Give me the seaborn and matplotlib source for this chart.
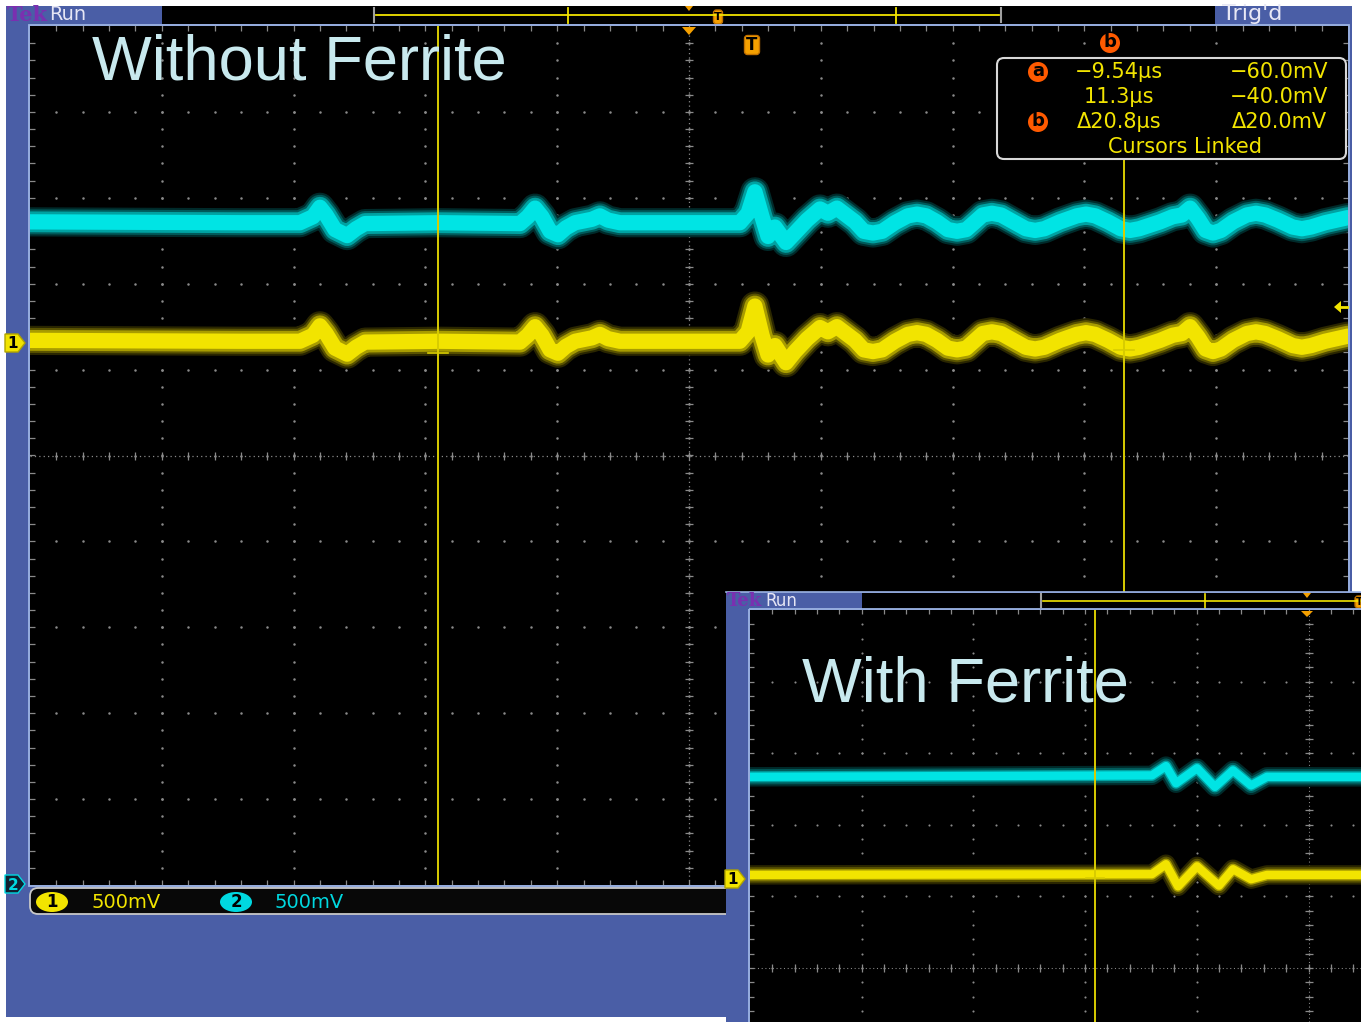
"""
plot.py – 示波器截图复刻：Without Ferrite / With Ferrite
"""
import numpy as np
import pandas as pd
import matplotlib
matplotlib.use("Agg")
import matplotlib.pyplot as plt
import seaborn as sns
from matplotlib.patches import Rectangle, FancyBboxPatch, Circle, Ellipse, Polygon

# ---- 数据：时间 µs (5 µs/div)，幅度为屏幕格数 (div) ----
t_main = [-25.0, -17.03, -14.76, -14.26, -14.0, -13.77, -13.43, -12.97, -12.63,
          -12.29, -9.45, -6.41, -6.11, -5.84, -5.58, -5.27, -4.97, -4.67,
          -4.32, -3.68, -3.38, -3.07, -2.62, 1.93, 2.24, 2.50, 2.77,
          3.00, 3.26, 3.68, 4.02, 4.48, 4.97, 5.27, 5.61, 6.30,
          6.63, 6.98, 7.33, 7.81, 8.30, 8.65, 9.00, 9.41, 9.82,
          10.17, 10.52, 10.85, 11.14, 11.49, 11.84, 12.25, 12.78, 13.13,
          13.48, 14.07, 14.71, 15.06, 15.41, 15.90, 16.38, 16.73, 17.08,
          17.87, 18.35, 18.70, 19.01, 19.31, 19.60, 19.88, 20.18, 20.64,
          21.16, 21.51, 21.86, 22.34, 22.90, 23.25, 23.60, 24.13, 25.0]
ch2_main = [2.72, 2.71, 2.71, 2.78, 2.89, 2.80, 2.63, 2.56, 2.64,
            2.70, 2.71, 2.70, 2.78, 2.88, 2.78, 2.61, 2.57, 2.65,
            2.71, 2.75, 2.79, 2.74, 2.71, 2.71, 2.82, 3.07, 2.78,
            2.55, 2.66, 2.48, 2.59, 2.74, 2.87, 2.82, 2.88, 2.72,
            2.61, 2.59, 2.61, 2.71, 2.79, 2.81, 2.79, 2.72, 2.63,
            2.61, 2.63, 2.72, 2.80, 2.82, 2.80, 2.73, 2.64, 2.62,
            2.64, 2.72, 2.79, 2.81, 2.79, 2.72, 2.64, 2.62, 2.64,
            2.72, 2.78, 2.80, 2.88, 2.76, 2.62, 2.59, 2.62, 2.72,
            2.80, 2.82, 2.80, 2.74, 2.66, 2.64, 2.66, 2.71, 2.77]
ch1_main = [1.34, 1.33, 1.33, 1.40, 1.51, 1.42, 1.25, 1.18, 1.26,
            1.32, 1.33, 1.32, 1.40, 1.50, 1.40, 1.23, 1.19, 1.27,
            1.33, 1.37, 1.41, 1.36, 1.33, 1.33, 1.44, 1.74, 1.40,
            1.17, 1.28, 1.08, 1.21, 1.36, 1.49, 1.44, 1.50, 1.34,
            1.23, 1.21, 1.23, 1.33, 1.41, 1.43, 1.41, 1.34, 1.25,
            1.23, 1.25, 1.34, 1.42, 1.44, 1.42, 1.35, 1.26, 1.24,
            1.26, 1.34, 1.41, 1.43, 1.41, 1.34, 1.26, 1.24, 1.26,
            1.34, 1.40, 1.42, 1.50, 1.38, 1.24, 1.21, 1.24, 1.34,
            1.42, 1.44, 1.42, 1.36, 1.28, 1.26, 1.28, 1.33, 1.39]

t_ins_ch2 = [-25.0, -7.01, -6.38, -5.93, -4.99, -4.19, -3.38, -2.57, -1.86, 2.35]
ch2_ins = [2.67, 2.69, 2.82, 2.58, 2.79, 2.53, 2.76, 2.55, 2.67, 2.67]
t_ins_ch1 = [-25.0, -7.01, -6.38, -5.84, -4.99, -4.01, -3.38, -2.57, -1.86, 2.35]
ch1_ins = [1.30, 1.31, 1.45, 1.14, 1.42, 1.15, 1.38, 1.24, 1.30, 1.30]

cursor_t = [-9.54, 16.5]
cursor_lvl = [1.19, 1.23]
readout_time = ["\u22129.54\u00b5s", "11.3\u00b5s", "\u039420.8\u00b5s"]
readout_volt = ["\u221260.0mV", "\u221240.0mV", "\u039420.0mV"]
ch_scale = ["500mV", "500mV"]

BLUE = '#4a5ea6'
GRID = '#8a8a8a'
CYAN = ['#002a2a', '#005a5a', '#00a2a2', '#00e4e4']
YEL = ['#2a2600', '#5a5300', '#a89c00', '#f2e400']
YC = YEL[-1]
CUR = '#d8cc00'
ORANGE = '#ff5a00'
TRIG = '#f5a000'
LBLUE = '#9cb4e4'
TXT = '#c8e9ee'

W, H = 1361, 1022
fig = plt.figure(figsize=(W / 100, H / 100), dpi=100)
fig.patch.set_facecolor('white')


def pix_axes(z):
    ax = fig.add_axes([0, 0, 1, 1], zorder=z)
    ax.set_xlim(0, W)
    ax.set_ylim(H, 0)
    ax.axis('off')
    ax.patch.set_alpha(0)
    return ax


def scope_axes(box, xlim, ylim, z):
    x0, y0, x1, y1 = box
    ax = fig.add_axes([x0 / W, 1 - y1 / H, (x1 - x0) / W, (y1 - y0) / H], zorder=z)
    ax.set_facecolor('black')
    ax.set_xlim(*xlim)
    ax.set_ylim(*ylim)
    ax.set_xticks([])
    ax.set_yticks([])
    for s in ax.spines.values():
        s.set_visible(False)
    return ax


def graticule(ax, k=1.0):
    dot = dict(ls='none', marker='o', ms=1.8 * k, color=GRID, mew=0)
    xmaj = np.arange(-20, 21, 5)
    ymaj = np.arange(-4, 5, 1)
    xmin = np.arange(-24, 25, 1)
    ymin = np.arange(-4.8, 4.81, 0.2)
    gx, gy = np.meshgrid(xmaj, ymin)
    ax.plot(gx.ravel(), gy.ravel(), **dot)
    gx, gy = np.meshgrid(xmin, ymaj)
    ax.plot(gx.ravel(), gy.ravel(), **dot)
    ax.axvline(0, color=GRID, lw=0.9 * k, ls=(0, (1, 2.5)))
    ax.axhline(0, color=GRID, lw=0.9 * k, ls=(0, (1, 2.5)))
    tk = dict(ls='none', color=GRID, mew=0.9)
    ax.plot(np.zeros_like(ymin), ymin, marker='_', ms=6 * k, **tk)
    ax.plot(xmin, np.zeros_like(xmin), marker='|', ms=6 * k, **tk)
    for yy in (-5, 5):
        ax.plot(xmin, np.full_like(xmin, yy, dtype=float), marker='|', ms=7 * k, **tk)
    for xx in (-25, 25):
        ax.plot(np.full_like(ymin, xx), ymin, marker='_', ms=7 * k, **tk)


def trace(ax, t, v, colors, widths):
    df = pd.DataFrame({'t': t, 'v': v})
    for c, w in zip(colors, widths):
        sns.lineplot(data=df, x='t', y='v', ax=ax, color=c, lw=w, sort=False,
                     estimator=None, legend=False, solid_joinstyle='round',
                     solid_capstyle='round')
    ax.set_xlabel('')
    ax.set_ylabel('')


def ch_marker(ax, x0, y, label, fc, ec, tc):
    ax.add_patch(Polygon([(x0, y - 9), (x0 + 13, y - 9), (x0 + 20, y), (x0 + 13, y + 9), (x0, y + 9)],
                         closed=True, fc=fc, ec=ec, lw=1))
    ax.text(x0 + 8, y + 1, label, color=tc, fontsize=11, fontweight='bold', ha='center', va='center')


def t_marker(ax, x, y, w, h, fs):
    ax.add_patch(FancyBboxPatch((x - w / 2, y - h / 2), w, h, boxstyle='round,pad=0,rounding_size=3',
                                fc=TRIG, ec='#c07000', lw=1))
    ax.text(x, y, 'T', color='black', fontsize=fs, fontweight='bold', ha='center', va='center')


# ---------------- 背景与主窗口框架 ----------------
bg = pix_axes(0)
bg.add_patch(Rectangle((6, 6), 1346, 1011, fc=BLUE, ec='none'))
bg.add_patch(Rectangle((162, 6), 1053, 18, fc='black', ec='none'))
bg.text(7, 15, 'Tek', color='#7a30b0', fontsize=15, fontweight='bold', va='center', family='DejaVu Serif')
bg.text(49, 15, 'Run', color='#e6e6f5', fontsize=14, va='center')
bg.text(1222, 14, "Trig'd", color='#e8e8f5', fontsize=16, va='center')
bg.plot([374, 374], [8, 22], color='#a0a0a0', lw=1.5)
bg.plot([1001, 1001], [8, 22], color='#a0a0a0', lw=1.5)
bg.plot([376, 999], [15, 15], color=YC, lw=1.3)
for xx in (568, 896):
    bg.plot([xx, xx], [8, 23], color=YC, lw=1.3)
bg.add_patch(Polygon([(685, 6), (693, 6), (689, 11)], fc=TRIG, ec='none'))
t_marker(bg, 718, 17, 9, 14, 8)
bg.add_patch(FancyBboxPatch((30, 888), 720, 26, boxstyle='round,pad=0,rounding_size=8',
                            fc='#080808', ec='#c8c8c8', lw=1.3))
bg.add_patch(Ellipse((52, 902), 32, 20, fc=YC, ec='none'))
bg.text(52, 902, '1', color='black', fontsize=12, fontweight='bold', ha='center', va='center')
bg.text(92, 902, ch_scale[0], color=YC, fontsize=14, va='center')
bg.add_patch(Ellipse((236, 902), 32, 20, fc='#00d8e0', ec='none'))
bg.text(236, 902, '2', color='black', fontsize=12, fontweight='bold', ha='center', va='center')
bg.text(275, 902, ch_scale[1], color='#00d8e0', fontsize=14, va='center')
ch_marker(bg, 5, 343, '1', YC, '#b0a400', 'black')
ch_marker(bg, 5, 884, '2', '#102030', '#00d8e0', '#00d8e0')

# ---------------- 主示波器画面 ----------------
ax = scope_axes((30, 26, 1348, 885), (-25, 25), (-5, 5), 1)
graticule(ax)
trace(ax, t_main, ch2_main, CYAN, [21, 18, 15, 11])
trace(ax, t_main, ch1_main, YEL, [21, 18, 15, 11])
ax.plot([cursor_t[0]] * 2, [-5, 5], color=CUR, lw=1.4)
ax.plot([cursor_t[1]] * 2, [-5, 4.6], color=CUR, lw=1.4)
for ct, cl in zip(cursor_t, cursor_lvl):
    ax.plot([ct - 0.38, ct + 0.38], [cl, cl], color=CUR, lw=1.2)

top = pix_axes(1.5)
top.add_patch(Rectangle((29, 25), 1320, 861, fill=False, ec=LBLUE, lw=1.3))
top.add_patch(Polygon([(682, 27), (696, 27), (689, 35)], fc=TRIG, ec='none'))
top.text(92, 79, 'Without Ferrite', color=TXT, fontsize=45.5, family='Liberation Sans', va='baseline')
t_marker(top, 752, 45, 15, 19, 12)
top.add_patch(Circle((1110, 43), 10, fc=ORANGE, ec='none'))
top.text(1110, 42, 'b', color='black', fontsize=13, fontweight='bold', ha='center', va='center')
top.add_patch(FancyBboxPatch((997, 58), 349, 101, boxstyle='round,pad=0,rounding_size=7',
                             fc='black', ec='#d8d8d8', lw=1.5))
for i, (a, b) in enumerate(zip(readout_time, readout_volt)):
    yy = 72 + 25 * i
    top.text(1119, yy, a, color=YC, fontsize=15, ha='center', va='center')
    top.text(1279, yy, b, color=YC, fontsize=15, ha='center', va='center')
top.text(1185, 147, 'Cursors Linked', color=YC, fontsize=15, ha='center', va='center')
for lab, yy in (('a', 72), ('b', 122)):
    top.add_patch(Circle((1038, yy), 10, fc=ORANGE, ec='none'))
    top.text(1038, yy - 1, lab, color='black', fontsize=13, fontweight='bold', ha='center', va='center')
top.add_patch(Polygon([(1334, 307), (1341, 301), (1341, 313)], fc=YC, ec='none'))
top.plot([1340, 1347], [307, 307], color=YC, lw=2)

# ---------------- 插图：With Ferrite ----------------
ib = pix_axes(2)
ib.add_patch(Rectangle((726, 592), 640, 432, fc=BLUE, ec='none'))
ib.add_patch(Rectangle((862, 593), 500, 16, fc='black', ec='none'))
ib.plot([726, 1361], [592, 592], color=LBLUE, lw=1.2)
ib.text(727, 601, 'Tek', color='#7a30b0', fontsize=13, fontweight='bold', va='center', family='DejaVu Serif')
ib.text(765, 601, 'Run', color='#e6e6f5', fontsize=12, va='center')
ib.plot([1041, 1041], [594, 607], color='#a0a0a0', lw=1.5)
ib.plot([1043, 1361], [601, 601], color=YC, lw=1.2)
ib.plot([1205, 1205], [594, 608], color=YC, lw=1.2)
ib.add_patch(Polygon([(1303, 593), (1311, 593), (1307, 598)], fc=TRIG, ec='none'))
t_marker(ib, 1359, 602, 8, 12, 7)
ch_marker(ib, 725, 879, '1', YC, '#b0a400', 'black')

ia = scope_axes((750, 610, 1361, 1022), (-25, 2.35), (5 - 412 / 71.6, 5), 3)
graticule(ia, 0.85)
trace(ia, t_ins_ch2, ch2_ins, CYAN, [14, 11, 8, 6])
trace(ia, t_ins_ch1, ch1_ins, YEL, [14, 11, 8, 6])
ia.plot([cursor_t[0]] * 2, [-5, 5], color=CUR, lw=1.4)
ia.plot([cursor_t[0] - 0.4, cursor_t[0] + 0.4], [1.26, 1.26], color=CUR, lw=1.2)

it = pix_axes(4)
it.add_patch(Rectangle((749, 609), 620, 420, fill=False, ec=LBLUE, lw=1.3))
it.add_patch(Polygon([(1301, 611), (1313, 611), (1307, 617)], fc=TRIG, ec='none'))
it.text(802, 701, 'With Ferrite', color=TXT, fontsize=45.5, family='Liberation Sans', va='baseline')

plt.savefig('out.png', dpi=100, facecolor=fig.get_facecolor())
plt.close()
